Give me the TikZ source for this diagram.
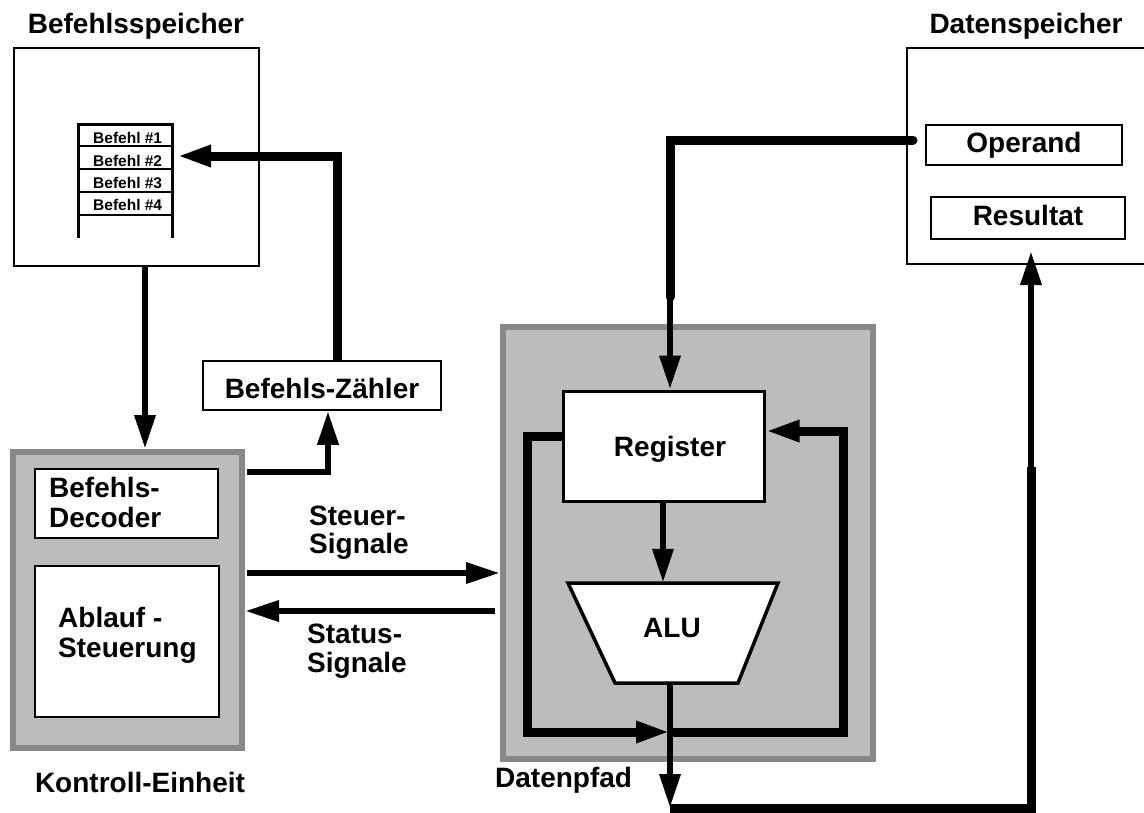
\documentclass[tikz,border=0pt]{standalone}
\usepackage{fontspec}
\setmainfont{Liberation Sans}
\usetikzlibrary{arrows.meta,calc}
\definecolor{hatch}{RGB}{188,188,188}
\definecolor{rim}{RGB}{136,136,136}
\begin{document}
\begin{tikzpicture}[x=1pt,y=-1pt,
  lbl/.style={font=\fontsize{28}{30}\selectfont\bfseries, inner sep=0pt},
  small/.style={font=\fontsize{15.5}{17}\selectfont\bfseries, inner sep=0pt},
  box/.style={draw, line width=1.5pt, fill=white, inner sep=0pt},
  unit/.style={draw=rim, line width=6pt, fill=hatch, inner sep=0pt},
  tip/.style={-{Triangle[length=34pt,width=20pt]}},
  wire/.style={line width=6.5pt, line join=miter},
  bus/.style={line width=9pt, line join=miter},
]
\useasboundingbox (0,0) rectangle (1144,812);
\fill[white] (0,0) rectangle (1144,812);

% ---------- Befehlsspeicher ----------
\node[lbl, anchor=base] (bst) at (136,33) {Befehlsspeicher};
\node[box, minimum width=245pt, minimum height=218pt] (bs) at (136.5,157) {};
\draw[line width=3pt] (78,238) -- (78,124) -- (172,124) -- (172,238);
\foreach \yy in {146,169,192,215} \draw[line width=1.5pt] (78,\yy) -- (172,\yy);
\node[small, anchor=base west] (b1) at (93,143) {Befehl \#1};
\node[small, anchor=base west] (b2) at (93,166) {Befehl \#2};
\node[small, anchor=base west] (b3) at (93,188) {Befehl \#3};
\node[small, anchor=base west] (b4) at (93,210) {Befehl \#4};
\coordinate (b2tip) at (177,156);

% ---------- Datenspeicher ----------
\node[lbl, anchor=base] (dst) at (1026,33) {Datenspeicher};
\node[box, minimum width=250pt, minimum height=216pt] (ds) at (1032,156) {};
\node[box, minimum width=196pt, minimum height=40pt] (op) at (1024,145) {};
\node[lbl, anchor=base] (opt) at (1024,152) {Operand};
\node[box, minimum width=194pt, minimum height=42pt] (res) at (1028,218) {};
\node[lbl, anchor=base] (rest) at (1028,225) {Resultat};

% ---------- Befehls-Zaehler ----------
\node[box, minimum width=238pt, minimum height=49pt] (bz) at (322,385.5) {};
\node[lbl, anchor=base] (bzt) at (322,398) {Befehls-Zähler};

% ---------- Kontroll-Einheit ----------
\node[unit, minimum width=229pt, minimum height=296pt] (ke) at (127.5,600) {};
\node[box, minimum width=183pt, minimum height=69pt] (dec) at (126.5,503.5) {};
\node[lbl, anchor=base west] (dec1) at (49,497) {Befehls-};
\node[lbl, anchor=base west] (dec2) at (49,527) {Decoder};
\node[box, minimum width=184pt, minimum height=151pt] (abl) at (127,641.5) {};
\node[lbl, anchor=base west] (abl1) at (58,627) {Ablauf -};
\node[lbl, anchor=base west] (abl2) at (58,657) {Steuerung};
\node[lbl, anchor=base] (ket) at (140,792) {Kontroll-Einheit};

% ---------- Datenpfad ----------
\node[unit, minimum width=370pt, minimum height=432pt] (dp) at (688,543) {};
\node[lbl, anchor=base west] (dpt) at (495,787) {Datenpfad};
\node[draw, line width=3pt, fill=white, minimum width=201pt, minimum height=110pt, inner sep=0pt] (reg) at (663.5,446) {};
\node[lbl, anchor=base] (regt) at (670,456) {Register};
\draw[line width=3.5pt, fill=white, line join=miter] (568,583) -- (778,583) -- (738,683) -- (615,683) -- cycle;
\node[minimum width=123pt, minimum height=100pt, inner sep=0pt] (alu) at (676.5,633) {};
\node[lbl, anchor=base] (alut) at (672,637) {ALU};

% ---------- signal labels ----------
\node[lbl, anchor=base west] (st1) at (309,525) {Steuer-};
\node[lbl, anchor=base west] (st2) at (309,553) {Signale};
\node[lbl, anchor=base west] (ss1) at (307,643) {Status-};
\node[lbl, anchor=base west] (ss2) at (307,672) {Signale};

% ---------- connectors ----------
% Befehlsspeicher -> Kontroll-Einheit
\draw[wire, tip] ([xshift=8.5pt]bs.south) -- ([xshift=8.5pt]bs.south |- ke.north);
% Kontroll-Einheit -> Befehls-Zaehler
\coordinate (kz) at (247,472);
\draw[wire, tip] (kz) -| ([xshift=6pt]bz.south);
% Befehls-Zaehler -> Befehl #2
\draw[bus, tip] ([xshift=15pt]bz.north) |- (b2tip);
% Steuer-Signale
\coordinate (s1) at (247,573);
\draw[wire, tip] (s1) -- (s1 -| dp.west);
% Status-Signale
\coordinate (s2) at (495,611);
\draw[wire, tip] (s2) -- (s2 -| ke.east);
% Operand -> Register
\coordinate (opout) at (913,140);
\coordinate (step1) at (670,297);
\draw[bus, line cap=round] (opout) -| (step1);
\draw[wire, tip] (step1) -- ([xshift=6.5pt]reg.north);
% Register -> ALU
\draw[wire, tip] ([xshift=-0.5pt]reg.south) -- ([xshift=-13.5pt]alu.north);
% ALU -> bottom -> Resultat
\coordinate (bot) at (670,808);
\draw[wire, tip] (alu.south -| bot) -- (bot);
\coordinate (corner) at (1031,808);
\coordinate (rstep) at (1031,467);
\coordinate (dstip) at (1031,251);
\draw[bus] (bot) -- (corner) -- (rstep);
\draw[wire, tip] (rstep) -- (dstip);
% internal loops
\coordinate (lt) at (527,436);
\coordinate (lb) at (527,732);
\draw[bus, tip] (lt -| reg.west) -- (lt) -- (lb) -- (lb -| bot);
\coordinate (rt) at (843,431);
\coordinate (rb) at (843,732);
\draw[bus, tip] (rb -| bot) -- (rb) -- (rt) -- (rt -| reg.east);
\end{tikzpicture}
\end{document}
